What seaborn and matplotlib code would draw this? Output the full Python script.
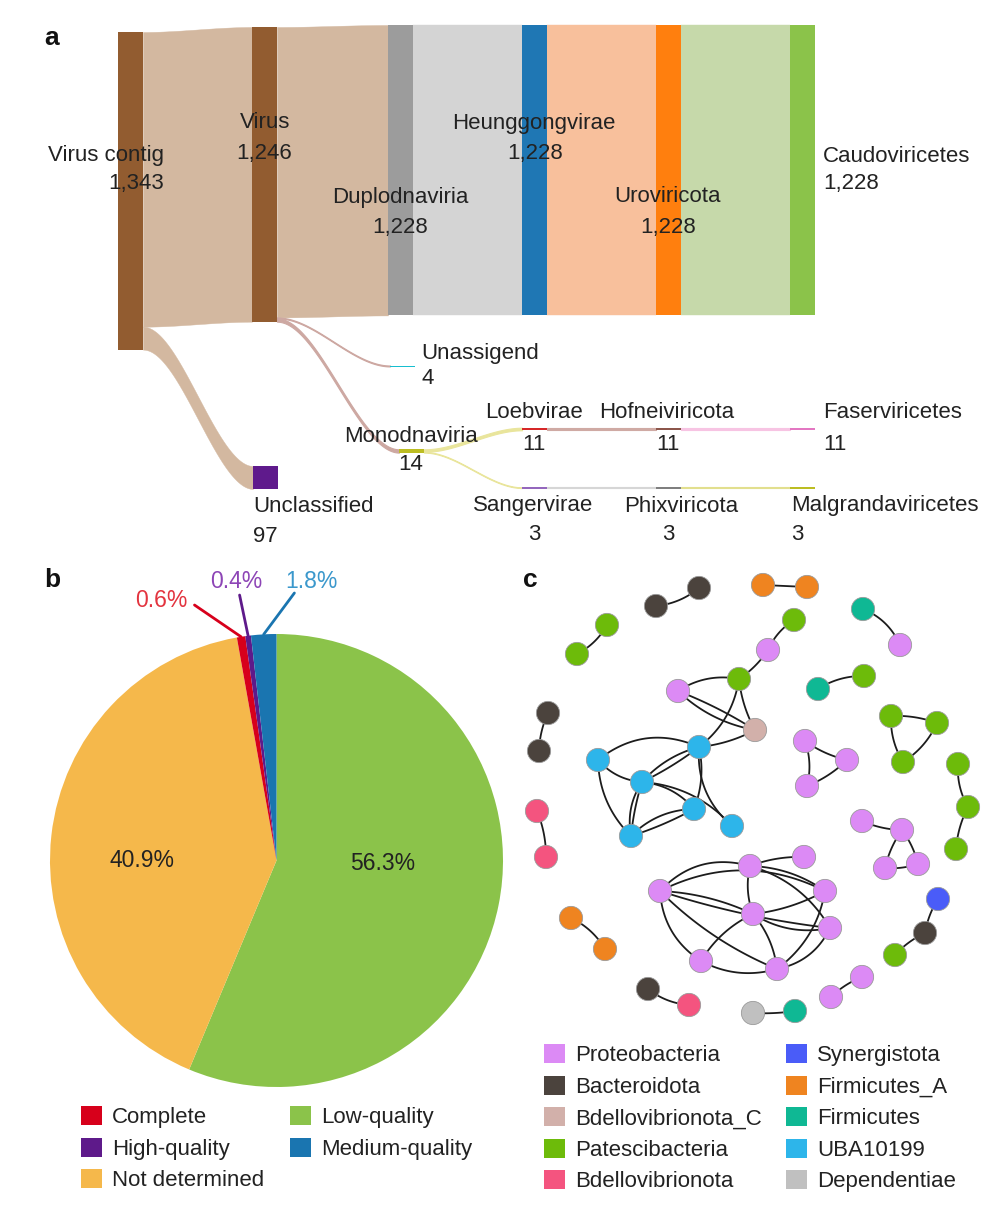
import matplotlib
matplotlib.use("Agg")
import numpy as np
import pandas as pd
import matplotlib.pyplot as plt
from matplotlib.patches import Patch
import seaborn as sns

sns.set_theme(style="white")
plt.rcParams["font.family"] = ["Liberation Sans", "DejaVu Sans"]
TXT = "#222222"
FS = 16

# ---------------- a: sankey data ----------------
node_names = ["Virus contig", "Virus", "Unclassified", "Duplodnaviria", "Unassigend",
              "Monodnaviria", "Heunggongvirae", "Loebvirae", "Sangervirae", "Uroviricota",
              "Hofneiviricota", "Phixviricota", "Caudoviricetes", "Faserviricetes",
              "Malgrandaviricetes"]
node_counts = [1343, 1246, 97, 1228, 4, 14, 1228, 11, 3, 1228, 11, 3, 1228, 11, 3]

link_src = ["Virus contig", "Virus contig", "Virus", "Virus", "Virus", "Duplodnaviria",
            "Monodnaviria", "Monodnaviria", "Heunggongvirae", "Loebvirae", "Sangervirae",
            "Uroviricota", "Hofneiviricota", "Phixviricota"]
link_tgt = ["Virus", "Unclassified", "Duplodnaviria", "Unassigend", "Monodnaviria",
            "Heunggongvirae", "Loebvirae", "Sangervirae", "Uroviricota", "Hofneiviricota",
            "Phixviricota", "Caudoviricetes", "Faserviricetes", "Malgrandaviricetes"]
link_val = [1246, 97, 1228, 4, 14, 1228, 11, 3, 1228, 11, 3, 1228, 11, 3]

# ---------------- b: pie data ----------------
quality_labels = ["Low-quality", "Not determined", "Complete", "High-quality", "Medium-quality"]
quality_pct = [56.3, 40.9, 0.6, 0.4, 1.8]
legend_b_order = ["Complete", "High-quality", "Not determined", "Low-quality", "Medium-quality"]

# ---------------- c: network data ----------------
phyla = ["Proteobacteria", "Bacteroidota", "Bdellovibrionota_C", "Patescibacteria",
         "Bdellovibrionota", "Synergistota", "Firmicutes_A", "Firmicutes", "UBA10199",
         "Dependentiae"]
node_phylum = ["Bacteroidota", "Bacteroidota", "Firmicutes_A", "Firmicutes_A",
               "Patescibacteria", "Patescibacteria", "Firmicutes", "Proteobacteria",
               "Patescibacteria", "Proteobacteria", "Patescibacteria", "Proteobacteria",
               "Bdellovibrionota_C", "UBA10199", "UBA10199", "UBA10199", "UBA10199",
               "UBA10199", "UBA10199", "Firmicutes", "Patescibacteria", "Patescibacteria",
               "Patescibacteria", "Patescibacteria", "Proteobacteria", "Proteobacteria",
               "Proteobacteria", "Patescibacteria", "Patescibacteria", "Patescibacteria",
               "Bacteroidota", "Bacteroidota", "Bdellovibrionota", "Bdellovibrionota",
               "Proteobacteria", "Proteobacteria", "Proteobacteria", "Proteobacteria",
               "Synergistota", "Bacteroidota", "Patescibacteria", "Firmicutes_A",
               "Firmicutes_A", "Bacteroidota", "Bdellovibrionota", "Dependentiae",
               "Firmicutes", "Proteobacteria", "Proteobacteria",
               "Proteobacteria", "Proteobacteria", "Proteobacteria", "Proteobacteria",
               "Proteobacteria", "Proteobacteria", "Proteobacteria", "Proteobacteria"]
edges = [(0, 1), (2, 3), (4, 5), (6, 7), (8, 9), (9, 10), (10, 11), (19, 20),
         (21, 22), (22, 23), (21, 23), (24, 25), (24, 26), (26, 25), (27, 28), (28, 29),
         (30, 31), (32, 33), (34, 35), (35, 36), (35, 37), (36, 37), (38, 39), (39, 40),
         (41, 42), (43, 44), (45, 46), (47, 48),
         (11, 12), (11, 12), (10, 12), (10, 13), (13, 12), (13, 14), (13, 15), (13, 15),
         (13, 16), (13, 18), (14, 15), (14, 17), (15, 17), (15, 17), (15, 16), (16, 17),
         (16, 17), (15, 18),
         (49, 50), (49, 52), (49, 53), (49, 54), (49, 56), (49, 55), (50, 51), (50, 53),
         (50, 54), (50, 52), (53, 52), (53, 54), (53, 55), (53, 56), (55, 56), (54, 56),
         (52, 56)]

# ---------------- layout / style ----------------
NODE_W = 25
PX_PER_COUNT = 0.2365
node_layout = {  # left x, top y (pixels)
    "Virus contig": (118, 32), "Virus": (252, 27), "Unclassified": (253, 466),
    "Duplodnaviria": (388, 25), "Unassigend": (390, 365.5), "Monodnaviria": (399, 449.3),
    "Heunggongvirae": (522, 25), "Loebvirae": (522, 427.7), "Sangervirae": (522, 487.3),
    "Uroviricota": (656, 25), "Hofneiviricota": (656, 427.7), "Phixviricota": (656, 487.3),
    "Caudoviricetes": (790, 25), "Faserviricetes": (790, 427.7),
    "Malgrandaviricetes": (790, 487.3)}
node_colors = {
    "Virus contig": "#925c30", "Virus": "#925c30", "Unclassified": "#5f1a8c",
    "Duplodnaviria": "#9c9c9c", "Unassigend": "#17becf", "Monodnaviria": "#bcbd22",
    "Heunggongvirae": "#1f77b4", "Loebvirae": "#d62728", "Sangervirae": "#9467bd",
    "Uroviricota": "#ff7f0e", "Hofneiviricota": "#8c564b", "Phixviricota": "#7f7f7f",
    "Caudoviricetes": "#8bc34a", "Faserviricetes": "#e377c2", "Malgrandaviricetes": "#bcbd22"}
link_colors = ["#d3b8a0", "#d3b8a0", "#d3b8a0", "#cda8a2", "#cda8a2", "#d4d4d4",
               "#e9e59c", "#e9e59c", "#f8c09c", "#cfaaa4", "#d6d6d6", "#c6d9aa",
               "#f7c4e3", "#e2df8e"]
# name (x, y), value (x, y), alignment
label_layout = {
    "Virus contig": ((164, 156), (164, 184), "right"),
    "Virus": ((265, 123), (264, 154), "center"),
    "Unclassified": ((253, 506), (253, 536), "left"),
    "Duplodnaviria": ((400, 197), (400, 227), "center"),
    "Unassigend": ((421, 353), (421, 378), "left"),
    "Monodnaviria": ((411, 436), (411, 465), "center"),
    "Heunggongvirae": ((534, 124), (535, 154), "center"),
    "Loebvirae": ((534, 413), (534, 445), "center"),
    "Sangervirae": ((533, 506), (534, 535), "center"),
    "Uroviricota": ((668, 197), (668, 227), "center"),
    "Hofneiviricota": ((667, 413), (668, 445), "center"),
    "Phixviricota": ((681, 506), (668, 535), "center"),
    "Caudoviricetes": ((823, 156), (823, 184), "left"),
    "Faserviricetes": ((823, 413), (823, 445), "left"),
    "Malgrandaviricetes": ((791, 506), (791, 535), "left")}

pie_colors = {"Low-quality": "#8bc34a", "Not determined": "#f5b84b", "Complete": "#d7001b",
              "High-quality": "#5e1a8a", "Medium-quality": "#1a75b0"}
small_label_color = {"Complete": "#e3343f", "High-quality": "#8d45b6",
                     "Medium-quality": "#3b98cc"}
# label anchor, leader start (pie data units)
small_label_layout = {"Complete": ((-0.508, 1.150), (-0.362, 1.128)),
                      "High-quality": ((-0.177, 1.232), (-0.163, 1.172)),
                      "Medium-quality": ((0.155, 1.232), (0.079, 1.181))}
big_label_layout = {"Low-quality": (0.468, -0.013), "Not determined": (-0.596, 0.0)}

phylum_palette = {"Proteobacteria": "#dc8af5", "Bacteroidota": "#4b433d",
                  "Bdellovibrionota_C": "#d2b0aa", "Patescibacteria": "#6dbb0a",
                  "Bdellovibrionota": "#f4547f", "Synergistota": "#4a5cf8",
                  "Firmicutes_A": "#ef8420", "Firmicutes": "#0fb894",
                  "UBA10199": "#2db5ea", "Dependentiae": "#c0c0c0"}
node_pos = [(656, 606), (699, 588), (763, 585), (807, 587), (577, 654), (607, 625),
            (863, 609), (900, 645), (794, 620), (768, 650), (739, 679), (678, 691),
            (755, 730), (699, 747), (598, 760), (642, 782), (694, 809), (631, 836),
            (732, 826), (818, 689), (864, 676), (891, 716), (937, 723), (903, 762),
            (805, 741), (847, 760), (807, 786), (958, 764), (968, 807), (956, 849),
            (548, 713), (539, 751), (537, 811), (546, 857), (862, 821), (902, 830),
            (885, 868), (918, 864), (938, 899), (925, 933), (895, 955), (571, 918),
            (605, 949), (648, 989), (689, 1005), (753, 1013), (795, 1011), (831, 997),
            (862, 977), (660, 891), (750, 866), (804, 857), (825, 891), (753, 914),
            (830, 928), (701, 961), (777, 969)]
edge_bend = [0.15, 0.0, 0.15, -0.2, 0.15, -0.1, 0.2, -0.15,
             -0.1, -0.15, 0.15, 0.1, -0.15, 0.1, 0.15, 0.1,
             0.1, -0.1, 0.1, 0.1, -0.1, 0.1, 0.1, 0.1,
             -0.15, 0.15, 0.05, -0.1,
             0.15, -0.05, 0.1, -0.2, 0.1, 0.3, 0.15, -0.05,
             -0.15, 0.25, 0.2, 0.2, 0.2, 0.05, -0.2, 0.2,
             -0.05, -0.2,
             -0.3, -0.25, -0.1, 0.05, 0.1, 0.25, -0.1, 0.15,
             -0.2, -0.15, 0.1, 0.2, 0.15, -0.15, 0.2, -0.25,
             -0.2]


def smooth_band(x0, x1, t0, b0, t1, b1, n=120):
    xs = np.linspace(x0, x1, n)
    u = (xs - x0) / (x1 - x0)
    s = u * u * (3 - 2 * u)
    return xs, t0 + (t1 - t0) * s, b0 + (b1 - b0) * s


def bezier(p, q, bend, n=40):
    p, q = np.asarray(p, float), np.asarray(q, float)
    d = q - p
    c = (p + q) / 2 + bend * np.array([-d[1], d[0]])
    t = np.linspace(0, 1, n)[:, None]
    return (1 - t) ** 2 * p + 2 * (1 - t) * t * c + t ** 2 * q


fig = plt.figure(figsize=(9.93, 12.06), dpi=100)
ax = fig.add_axes([0, 0, 1, 1])
ax.set_xlim(0, 993)
ax.set_ylim(1206, 0)
ax.axis("off")

# ---- sankey ribbons
count = dict(zip(node_names, node_counts))
out_off = {n: 0.0 for n in node_names}
in_off = {n: 0.0 for n in node_names}
for s, t, v, col in zip(link_src, link_tgt, link_val, link_colors):
    sx, sy = node_layout[s]
    tx, ty = node_layout[t]
    h = v * PX_PER_COUNT
    t0 = sy + out_off[s]
    t1 = ty + in_off[t]
    out_off[s] += h
    in_off[t] += h
    xs, yt, yb = smooth_band(sx + NODE_W, tx, t0, t0 + h, t1, t1 + h)
    lw = 0.8 if h < 5 else 0.3
    ax.fill_between(xs, yt, yb, color=col, lw=lw, zorder=1)

# ---- sankey nodes
for name in node_names:
    x, y = node_layout[name]
    h = max(count[name] * PX_PER_COUNT, 1.6)
    ax.bar(x, h, width=NODE_W, bottom=y, align="edge", color=node_colors[name],
           lw=0, zorder=2)
    (nx, ny), (vx, vy), ha = label_layout[name]
    ax.text(nx, ny, name, ha=ha, va="center", fontsize=FS, color=TXT, zorder=5)
    ax.text(vx, vy, f"{count[name]:,}", ha=ha, va="center", fontsize=FS, color=TXT, zorder=5)

# ---- network edges and nodes
for (a, b), bend in zip(edges, edge_bend):
    pts = bezier(node_pos[a], node_pos[b], bend)
    ax.plot(pts[:, 0], pts[:, 1], color="#1c1c1c", lw=1.3, zorder=3, solid_capstyle="round")

net = pd.DataFrame({"phylum": node_phylum,
                    "x": [p[0] for p in node_pos],
                    "y": [p[1] for p in node_pos]})
sns.scatterplot(data=net, x="x", y="y", hue="phylum", palette=phylum_palette,
                hue_order=phyla, s=280, edgecolor="#9a9a9a", linewidth=0.6,
                legend=False, ax=ax, zorder=4)
ax.set_xlim(0, 993)
ax.set_ylim(1206, 0)
ax.axis("off")

# ---- panel letters
for letter, (lx, ly) in {"a": (52, 38), "b": (52, 580), "c": (530, 580)}.items():
    ax.text(lx, ly, letter, ha="center", va="center", fontsize=19, fontweight="bold",
            color="#111111")

# ---- b: pie
pax = fig.add_axes([50 / 993, 1 - 1087 / 1206, 453 / 993, 453 / 1206])
pax.pie(quality_pct, colors=[pie_colors[q] for q in quality_labels], startangle=90,
        counterclock=False, wedgeprops=dict(linewidth=0))
pax.set_xlim(-1, 1)
pax.set_ylim(-1, 1)
start = 90.0
for q, p in zip(quality_labels, quality_pct):
    mid = np.deg2rad(start - 3.6 * p / 2)
    start -= 3.6 * p
    if q in small_label_layout:
        (lx, ly), (sx, sy) = small_label_layout[q]
        pax.plot([sx, np.cos(mid)], [sy, np.sin(mid)], color=pie_colors[q], lw=2,
                 clip_on=False)
        pax.text(lx, ly, f"{p}%", ha="center", va="center", fontsize=16.5,
                 color=small_label_color[q], clip_on=False)
    else:
        lx, ly = big_label_layout[q]
        pax.text(lx, ly, f"{p}%", ha="center", va="center", fontsize=16.5, color=TXT)

leg_b = fig.legend(handles=[Patch(facecolor=pie_colors[q], edgecolor="none") for q in legend_b_order],
                   labels=legend_b_order, ncol=2, loc="upper left",
                   bbox_to_anchor=(81 / 993, 1 - 1106 / 1206), frameon=False, fontsize=FS,
                   handlelength=0.95, handleheight=0.95, handletextpad=0.45,
                   labelspacing=0.42, columnspacing=1.15, borderpad=0, borderaxespad=0)
for t in leg_b.get_texts():
    t.set_color(TXT)

leg_c = fig.legend(handles=[Patch(facecolor=phylum_palette[p], edgecolor="none") for p in phyla],
                   labels=phyla, ncol=2, loc="upper left",
                   bbox_to_anchor=(544 / 993, 1 - 1044 / 1206), frameon=False, fontsize=FS,
                   handlelength=0.95, handleheight=0.95, handletextpad=0.45,
                   labelspacing=0.42, columnspacing=1.1, borderpad=0, borderaxespad=0)
for t in leg_c.get_texts():
    t.set_color(TXT)

fig.savefig("out.png", dpi=100)
